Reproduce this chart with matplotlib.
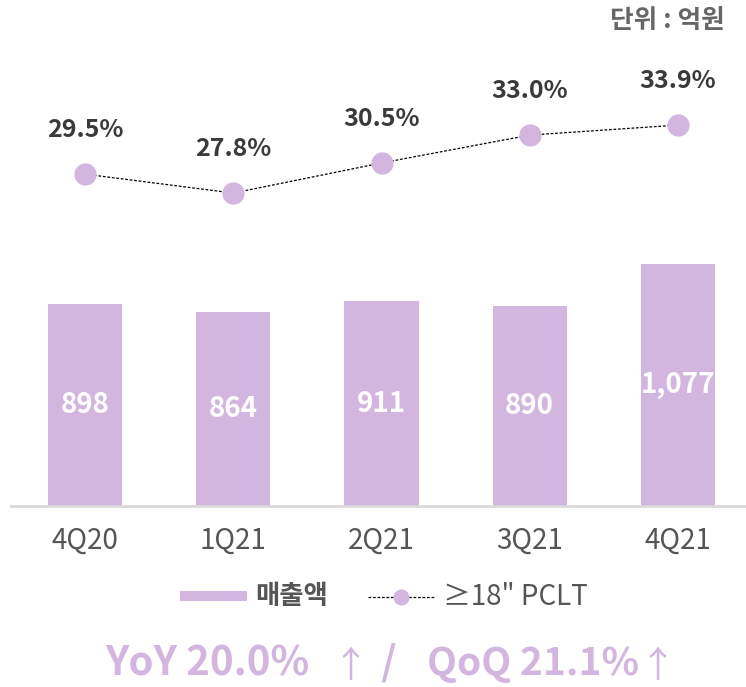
import matplotlib
matplotlib.use("Agg")
import matplotlib.pyplot as plt
from matplotlib.patches import Rectangle
from matplotlib.lines import Line2D

plt.rcParams['font.family'] = ['Noto Sans CJK KR', 'DejaVu Sans']

categories = ["4Q20", "1Q21", "2Q21", "3Q21", "4Q21"]
sales = [898, 864, 911, 890, 1077]
sales_labels = ["898", "864", "911", "890", "1,077"]
pclt = [29.5, 27.8, 30.5, 33.0, 33.9]
pclt_labels = ["29.5%", "27.8%", "30.5%", "33.0%", "33.9%"]

BAR = "#D2B6DF"
DARK = "#3A3A3A"
GRAY = "#555555"

W, H = 746, 687
fig = plt.figure(figsize=(W / 100, H / 100), dpi=100)
fig.patch.set_facecolor("white")

left_px, right_px = 10.9, 752.1
bot_px, top_px = 506, 40
ax = fig.add_axes([left_px / W, (H - bot_px) / H, (right_px - left_px) / W, (bot_px - top_px) / H])
x = list(range(len(categories)))
ax.bar(x, sales, width=0.5, color=BAR, zorder=2)
ax.set_xlim(-0.5, 4.5)
ax.set_ylim(0, 2074)
for s in ["top", "right", "left"]:
    ax.spines[s].set_visible(False)
ax.spines["bottom"].set_color("#D9D9D9")
ax.spines["bottom"].set_linewidth(2)
ax.set_yticks([])
ax.set_xticks(x)
ax.set_xticklabels(categories, fontsize=20, color=GRAY)
ax.tick_params(axis="x", length=0, pad=14)
for xi, v, lab in zip(x, sales, sales_labels):
    ax.text(xi, v / 2, lab, ha="center", va="center", color="white",
            fontsize=20, fontweight="bold", zorder=3)

ax2 = ax.twinx()
ax2.set_ylim(-0.27, 41.53)
ax2.axis("off")
ax2.plot(x, pclt, color="black", lw=0.9, dashes=(2.2, 1.4), marker="o",
         markersize=15, markerfacecolor=BAR, markeredgecolor=BAR, zorder=3)
for xi, v, lab in zip(x, pclt, pclt_labels):
    ax2.annotate(lab, (xi, v), xytext=(0, 32), textcoords="offset points",
                 ha="center", va="center", fontsize=18, fontweight="bold", color=DARK)

# unit text
fig.text(725 / W, 1 - 20 / H, "단위 : 억원", ha="right", va="center",
         fontsize=18.5, fontweight="bold", color="#666666")

# legend (manual)
ly = 1 - 597 / H
fig.patches.append(Rectangle((180 / W, 1 - 601 / H), 67 / W, 10 / H,
                             transform=fig.transFigure, facecolor=BAR, edgecolor="none"))
fig.text(255 / W, ly, "매출액", ha="left", va="center", fontsize=19,
         fontweight="bold", color=GRAY)
fig.lines.append(Line2D([368 / W, 435 / W], [ly, ly], transform=fig.transFigure,
                        color="black", lw=0.9, dashes=(2.2, 1.4)))
fig.lines.append(Line2D([401 / W], [ly], transform=fig.transFigure, marker="o",
                        markersize=10.5, markerfacecolor=BAR, markeredgecolor=BAR))
fig.text(443 / W, ly, "≥18\" PCLT", ha="left", va="center", fontsize=20, color=GRAY)

# bottom summary
by = 1 - 675 / H
ay = 1 - 677 / H
fig.text(105 / W, by, "YoY 20.0%", ha="left", va="baseline",
         fontsize=29, fontweight="bold", color=BAR)
fig.text(350 / W, ay, "↑", ha="center", va="baseline", fontsize=26, color=BAR)
fig.text(388 / W, by, "/", ha="center", va="baseline", fontsize=29,
         fontweight="bold", color=BAR)
fig.text(427 / W, by, "QoQ 21.1%", ha="left", va="baseline",
         fontsize=28, fontweight="bold", color=BAR)
fig.text(657 / W, ay, "↑", ha="center", va="baseline", fontsize=26, color=BAR)

fig.savefig("out.png", dpi=100, facecolor="white")
